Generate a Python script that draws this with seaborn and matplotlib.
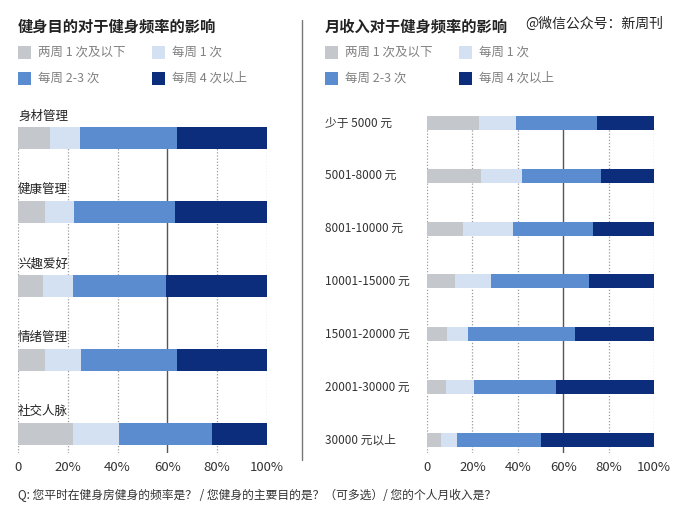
import matplotlib
matplotlib.use("Agg")
import matplotlib.pyplot as plt
from matplotlib.patches import Rectangle
import seaborn as sns
import pandas as pd

# ---------------- data ----------------
freq_levels = ["两周 1 次及以下", "每周 1 次", "每周 2-3 次", "每周 4 次以上"]
colors = ["#c4c7cc", "#d4e1f3", "#5b8ccf", "#0c2c7c"]

purposes = ["身材管理", "健康管理", "兴趣爱好", "情绪管理", "社交人脉"]
p_lt1 = [13, 11, 10, 11, 22]
p_1 = [12, 11.5, 12, 14.5, 18.5]
p_23 = [39, 40.5, 37.5, 38.5, 37.5]
p_4 = [36, 37, 40.5, 36, 22]

incomes = ["少于 5000 元", "5001-8000 元", "8001-10000 元", "10001-15000 元",
           "15001-20000 元", "20001-30000 元", "30000 元以上"]
i_lt1 = [23, 24, 16, 12.5, 9, 8.5, 6]
i_1 = [16, 18, 22, 15.5, 9, 12, 7]
i_23 = [36, 34.5, 35, 43.5, 47, 36.5, 37]
i_4 = [25, 23.5, 27, 28.5, 35, 43, 50]

xticks = [0, 20, 40, 60, 80, 100]
xticklabels = ["0", "20%", "40%", "60%", "80%", "100%"]

title_left = "健身目的对于健身频率的影响"
title_right = "月收入对于健身频率的影响"
watermark = "@微信公众号：新周刊"
footnote = "Q: 您平时在健身房健身的频率是？ / 您健身的主要目的是？（可多选）/ 您的个人月收入是？"

# ---------------- style ----------------
sns.set_theme(style="white")
plt.rcParams["font.family"] = ["Noto Sans CJK SC", "DejaVu Sans"]

W, H = 700, 515
fig = plt.figure(figsize=(W / 100, H / 100), dpi=100)


def px_axes(x0, x1, ytop, ybot):
    return fig.add_axes([x0 / W, 1 - ybot / H, (x1 - x0) / W, (ybot - ytop) / H])


def stacked(ax, cats, series, bar_w):
    df = pd.DataFrame({"cat": cats})
    cum = [0] * len(cats)
    cols = []
    for k, s in enumerate(series):
        cum = [a + b for a, b in zip(cum, s)]
        df[f"c{k}"] = cum
        cols.append(f"c{k}")
    for k in reversed(range(len(series))):
        sns.barplot(data=df, x=cols[k], y="cat", color=colors[k], orient="h",
                    width=bar_w, saturation=1, linewidth=0, ax=ax)
    for p in ax.patches:
        p.set_zorder(5)
    ax.set_xlim(0, 100)
    for t in xticks:
        if t == 60:
            ax.axvline(t, color="#555555", lw=1.0, zorder=1)
        else:
            ax.axvline(t, color="#9a9a9a", lw=0.9, ls=(0, (1, 1.5)), zorder=1)
    ax.set_xticks(xticks)
    ax.set_xticklabels(xticklabels, fontsize=9.5, color="#333333")
    ax.tick_params(axis="x", length=0, pad=6)
    ax.set_yticks([])
    ax.set_xlabel("")
    ax.set_ylabel("")
    for sp in ax.spines.values():
        sp.set_visible(False)
    ax.patch.set_alpha(0)


# left panel
axL = px_axes(18, 267, 127, 453)
stacked(axL, purposes, [p_lt1, p_1, p_23, p_4], 0.30)
axL.set_ylim(4.257, -0.15)
for i, lab in enumerate(purposes):
    axL.text(0, i - 0.30, lab, ha="left", va="center", fontsize=9,
             color="#222222", clip_on=False)

# right panel
axR = px_axes(427, 654, 116, 453)
stacked(axR, incomes, [i_lt1, i_1, i_23, i_4], 0.265)
axR.set_ylim(6.246, -0.13)
for i, lab in enumerate(incomes):
    axR.text(-45, i, lab, ha="left", va="center", fontsize=8.5,
             color="#333333", clip_on=False)

# overlay for titles, legends, separators (pixel coordinates)
ov = fig.add_axes([0, 0, 1, 1], zorder=-1)
ov.set_xlim(0, W)
ov.set_ylim(H, 0)
ov.axis("off")

ov.text(18, 27, title_left, fontsize=11, fontweight="bold", color="#222222",
        ha="left", va="center")
ov.text(325, 27, title_right, fontsize=11, fontweight="bold", color="#222222",
        ha="left", va="center")
ov.text(525, 24, watermark, fontsize=10, color="#222222", ha="left", va="center")

ov.plot([302, 302], [20, 460], color="#777777", lw=1)

leg_pos = [(0, 52), (1, 52), (0, 78), (1, 78)]
for base, colx in [(18, (18, 152)), (325, (325, 459))]:
    for k, (c, r) in enumerate(leg_pos):
        x = colx[c]
        ov.add_patch(Rectangle((x, r - 6.5), 13, 13, color=colors[k], lw=0))
        ov.text(x + 20, r, freq_levels[k], fontsize=9, color="#808080",
                ha="left", va="center")

ov.text(18, 495, footnote, fontsize=8.5, color="#333333", ha="left", va="center")

fig.savefig("out.png", dpi=100)
